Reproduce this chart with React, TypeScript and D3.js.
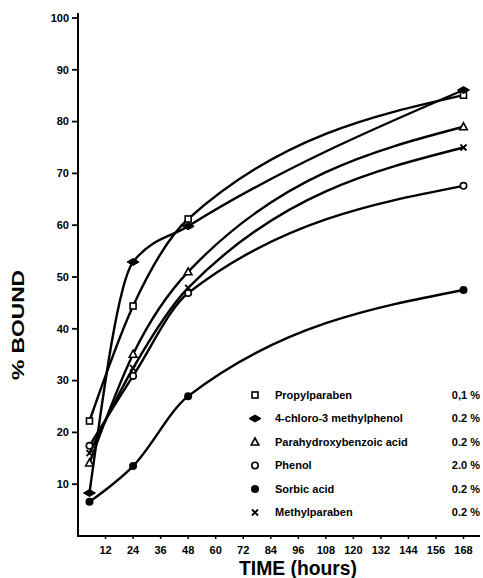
import React from "react";
import * as d3 from "d3";

const hours = [5, 24, 48, 168];
const propylparaben = [22.2, 44.4, 61.2, 85.1];
const chloroMethylphenol = [8.3, 52.9, 59.8, 86.1];
const parahydroxybenzoic = [14.1, 35.1, 51.0, 79.0];
const phenol = [17.4, 30.9, 46.9, 67.6];
const sorbicAcid = [6.6, 13.5, 27.0, 47.5];
const methylparaben = [16.0, 32.4, 47.9, 75.0];

const seriesNames = [
  "Propylparaben",
  "4-chloro-3 methylphenol",
  "Parahydroxybenzoic acid",
  "Phenol",
  "Sorbic acid",
  "Methylparaben",
];
const concentrations = ["0,1 %", "0.2 %", "0.2 %", "2.0 %", "0.2 %", "0.2 %"];
const markerKinds = ["square", "diamond", "triangle", "circle", "dot", "cross"];

const xTicks = [12, 24, 36, 48, 60, 72, 84, 96, 108, 120, 132, 144, 156, 168];
const yTicks = [10, 20, 30, 40, 50, 60, 70, 80, 90, 100];

const FONT = "'Liberation Sans', Arial, sans-serif";

function Marker({ kind, cx, cy }: { kind: string; cx: number; cy: number }) {
  const sw = 1.6;
  switch (kind) {
    case "square":
      return <rect x={cx - 3} y={cy - 3} width={6} height={6} fill="white" stroke="black" strokeWidth={sw} />;
    case "diamond":
      return (
        <path
          d={`M${cx - 6},${cy} L${cx},${cy - 3.5} L${cx + 6},${cy} L${cx},${cy + 3.5} Z`}
          fill="black"
          stroke="black"
          strokeWidth={1}
        />
      );
    case "triangle":
      return (
        <path
          d={`M${cx},${cy - 4} L${cx + 3.8},${cy + 3} L${cx - 3.8},${cy + 3} Z`}
          fill="white"
          stroke="black"
          strokeWidth={sw}
        />
      );
    case "circle":
      return <circle cx={cx} cy={cy} r={3.2} fill="white" stroke="black" strokeWidth={sw} />;
    case "dot":
      return <circle cx={cx} cy={cy} r={4} fill="black" />;
    case "cross":
      return (
        <path
          d={`M${cx - 3},${cy - 3} L${cx + 3},${cy + 3} M${cx + 3},${cy - 3} L${cx - 3},${cy + 3}`}
          stroke="black"
          strokeWidth={1.8}
        />
      );
    default:
      return null;
  }
}

export default function App() {
  const W = 483;
  const H = 578;
  const x = d3.scaleLinear().domain([0, 168]).range([78, 463.5]);
  const y = d3.scaleLinear().domain([0, 100]).range([536, 18]);

  const allSeries = [
    propylparaben,
    chloroMethylphenol,
    parahydroxybenzoic,
    phenol,
    sorbicAcid,
    methylparaben,
  ];

  const line = d3
    .line<[number, number]>()
    .x((d) => x(d[0]))
    .y((d) => y(d[1]))
    .curve(d3.curveMonotoneX);

  const legendX = 255;
  const legendY0 = 395;
  const legendDy = 23.5;

  return (
    <svg
      width={W}
      height={H}
      style={{ position: "absolute", left: 0, top: 0, background: "white" }}
      fontFamily={FONT}
    >
      <rect width={W} height={H} fill="white" />
      {/* axes */}
      <line x1={x(0)} y1={y(0)} x2={x(0)} y2={13} stroke="black" strokeWidth={2} />
      <line x1={x(0) - 1} y1={y(0)} x2={480} y2={y(0)} stroke="black" strokeWidth={2} />
      {yTicks.map((t) => (
        <g key={t}>
          <line x1={x(0) - 6} x2={x(0)} y1={y(t)} y2={y(t)} stroke="black" strokeWidth={1.8} />
          <text
            x={x(0) - 9}
            y={y(t)}
            dy="0.35em"
            textAnchor="end"
            fontSize={11}
            fontWeight="bold"
          >
            {t}
          </text>
        </g>
      ))}
      {xTicks.map((t) => (
        <g key={t}>
          <line x1={x(t)} x2={x(t)} y1={y(0)} y2={y(0) + 3} stroke="black" strokeWidth={1.5} />
          <text x={x(t)} y={554} textAnchor="middle" fontSize={11} fontWeight="bold">
            {t}
          </text>
        </g>
      ))}
      <text
        x={298}
        y={575}
        textAnchor="middle"
        fontSize={20}
        fontWeight="bold"
        textLength={118}
        lengthAdjust="spacingAndGlyphs"
      >
        TIME (hours)
      </text>
      <text
        transform={`translate(24, 325) rotate(-90)`}
        textAnchor="middle"
        fontSize={17}
        fontWeight="bold"
        textLength={110}
        lengthAdjust="spacingAndGlyphs"
      >
        % BOUND
      </text>

      {/* lines */}
      {allSeries.map((vals, i) => (
        <path
          key={i}
          d={line(hours.map((h, j) => [h, vals[j]]) as [number, number][]) || ""}
          fill="none"
          stroke="black"
          strokeWidth={2.4}
        />
      ))}
      {allSeries.map((vals, i) =>
        hours.map((h, j) => (
          <Marker key={`${i}-${j}`} kind={markerKinds[i]} cx={x(h)} cy={y(vals[j])} />
        ))
      )}

      {/* legend */}
      {seriesNames.map((name, i) => {
        const ly = legendY0 + i * legendDy;
        return (
          <g key={name}>
            <Marker kind={markerKinds[i]} cx={legendX} cy={ly} />
            <text x={275} y={ly} dy="0.35em" fontSize={11} fontWeight="bold">
              {name}
            </text>
            <text x={480} y={ly} dy="0.35em" fontSize={11} fontWeight="bold" textAnchor="end">
              {concentrations[i]}
            </text>
          </g>
        );
      })}
    </svg>
  );
}
